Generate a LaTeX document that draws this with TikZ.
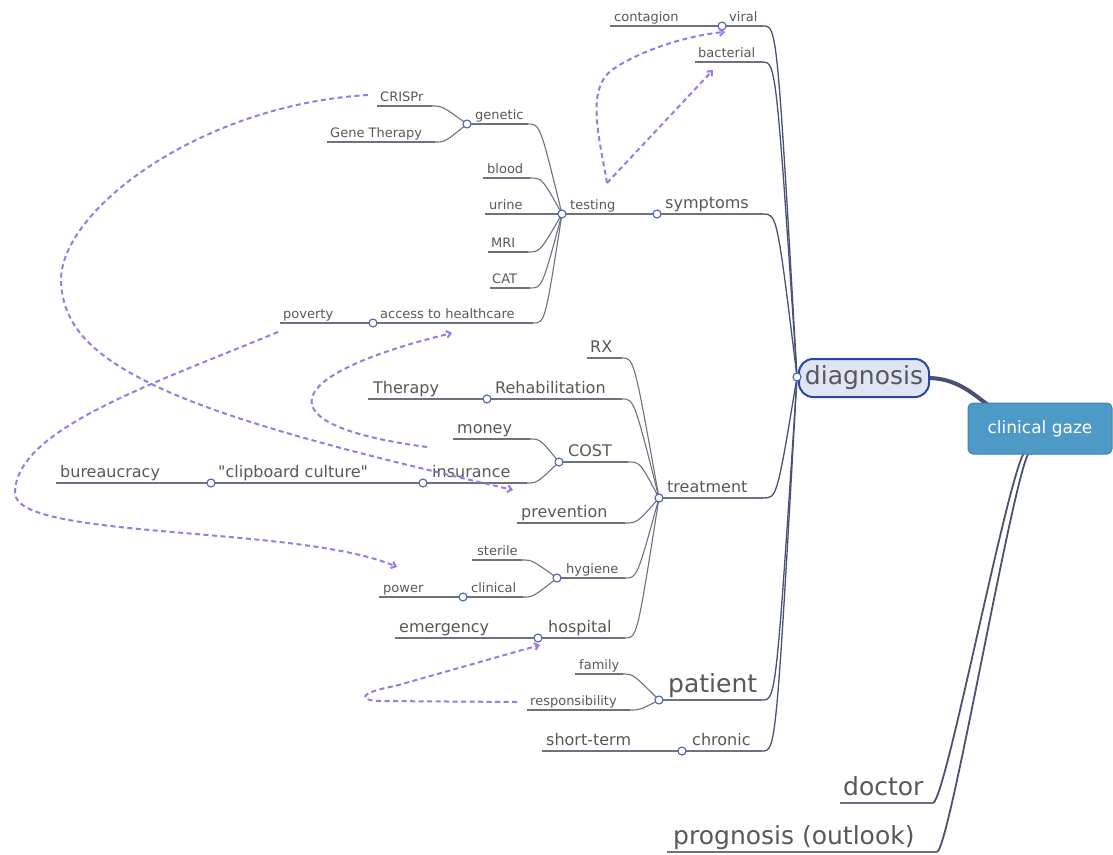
\documentclass[tikz,border=0pt]{standalone}
\usepackage{fontspec}
\setmainfont{DejaVu Sans}
\newfontfamily\plainq{DejaVu Sans}
\usetikzlibrary{arrows.meta,calc}
\definecolor{txt}{HTML}{585858}
\definecolor{ln}{HTML}{6E717E}
\definecolor{dk}{HTML}{4A5173}
\definecolor{cb}{HTML}{4A63B5}
\definecolor{dsh}{HTML}{9A78E6}
\definecolor{dfill}{HTML}{DFE5F5}
\definecolor{dborder}{HTML}{2845A8}
\definecolor{rootc}{HTML}{4D9AC6}
\definecolor{rootb}{HTML}{3F82AE}
\pgfdeclarelayer{bg}
\pgfsetlayers{bg,main}
\tikzset{
  uline/.style={draw=ln,line width=1.1pt},
  conn/.style={draw=ln,line width=1.1pt},
  dconn/.style={draw=dk,line width=1.3pt},
  lbl/.style={inner sep=0pt,text=txt,anchor=base west},
  dot/.style={circle,draw=cb,fill=white,line width=1.1pt,minimum size=8pt,inner sep=0pt},
  rel/.style={draw=dsh,line width=2pt,dash pattern=on 5pt off 3.5pt,-{Straight Barb[length=4pt,width=7pt]}},
  rootln/.style={draw=dk,line width=1.8pt},
  dnode/.style={draw=dborder,fill=dfill,line width=2pt,rounded corners=14pt,minimum width=130pt,minimum height=38pt,inner sep=0pt,text=txt,font=\fontsize{25}{25}\selectfont},
  rnode/.style={draw=rootb,fill=rootc,line width=1pt,rounded corners=5pt,minimum width=144pt,minimum height=51pt,inner sep=0pt,text=white,font=\fontsize{17}{17}\selectfont}
}
% #1 name, #2 xs, #3 xe, #4 y, #5 size, #6 label x, #7 baseline offset, #8 text
\newcommand{\mmT}[8]{%
  \coordinate (#1-s) at (#2,#4);
  \coordinate (#1-e) at (#3,#4);
  \draw[uline] (#1-s) -- (#1-e);
  \node[lbl,font=\fontsize{#5}{#5}\selectfont] (#1) at (#6,#4-#7) {#8};}
% #1 child, #2 parent coordinate, #3 style, #4 bend
\newcommand{\mmL}[4]{\draw[#3] (#1-e) .. controls ($(#1-e)+(#4,0)$) and ($(#1-e)+(#4,0)$) .. (#2);}
\begin{document}
\begin{tikzpicture}[x=1pt,y=-1pt]
\useasboundingbox (0,0) rectangle (1113,854);
\coordinate (diag-s) at (797,377);
% diagnosis branch
\mmT{viral}{722}{763}{26}{13}{729}{5}{viral}
\mmT{contagion}{610}{722}{26}{13}{614}{5}{contagion}
\mmT{bacterial}{695}{762}{62}{13}{698}{5}{bacterial}
\mmT{symptoms}{657}{763}{214}{16}{665}{6}{symptoms}
\mmT{testing}{562}{657}{214}{13}{570}{5}{testing}
\mmT{genetic}{467}{528}{124}{13}{475}{5}{genetic}
\mmT{crispr}{377}{432}{106}{13}{380}{5}{CRISPr}
\mmT{genether}{327}{435}{142}{13}{330}{5}{Gene Therapy}
\mmT{blood}{483}{530}{178}{13}{487}{5}{blood}
\mmT{urine}{485}{562}{214}{13}{489}{5}{urine}
\mmT{mri}{488}{528}{252}{13}{491}{5}{MRI}
\mmT{cat}{490}{530}{288}{13}{492}{5}{CAT}
\mmT{access}{373}{533}{323}{13}{380}{5}{access to healthcare}
\mmT{poverty}{280}{373}{323}{13}{283}{5}{poverty}
\mmT{treatment}{659}{763}{498}{16}{667}{6}{treatment}
\mmT{rx}{587}{622}{358}{16}{590}{6}{RX}
\mmT{rehab}{487}{622}{399}{16}{495}{6}{Rehabilitation}
\mmT{therapy}{368}{487}{399}{16}{373}{6}{Therapy}
\mmT{cost}{559}{628}{462}{16}{568}{6}{COST}
\mmT{money}{453}{530}{439}{16}{457}{6}{money}
\mmT{insurance}{423}{527}{483}{16}{432}{6}{insurance}
\mmT{clipboard}{211}{423}{483}{16}{218}{6}{{\plainq"clipboard culture"}}
\mmT{bureaucracy}{56}{211}{483}{16}{60}{6}{bureaucracy}
\mmT{prevention}{517}{625}{523}{16}{521}{6}{prevention}
\mmT{hygiene}{557}{625}{578}{13}{566}{5}{hygiene}
\mmT{sterile}{472}{522}{560}{13}{477}{5}{sterile}
\mmT{clinical}{463}{523}{597}{13}{471}{5}{clinical}
\mmT{power}{379}{463}{597}{13}{383}{5}{power}
\mmT{hospital}{538}{625}{638}{16}{548}{6}{hospital}
\mmT{emergency}{395}{538}{638}{16}{399}{6}{emergency}
\mmT{patient}{659}{762}{700}{25}{668}{8}{patient}
\mmT{family}{575}{623}{674}{13}{579}{5}{family}
\mmT{respons}{527}{630}{710}{13}{530}{5}{responsibility}
\mmT{chronic}{682}{762}{751}{16}{692}{6}{chronic}
\mmT{shortterm}{542}{682}{751}{16}{546}{6}{short-term}
\mmT{doctor}{840}{933}{803}{25}{843}{8}{doctor}
\mmT{prognosis}{667}{937}{852}{25}{673}{8}{prognosis (outlook)}
% links to diagnosis
\mmL{viral}{diag-s}{dconn}{14}
\mmL{bacterial}{diag-s}{dconn}{14}
\mmL{symptoms}{diag-s}{dconn}{14}
\mmL{treatment}{diag-s}{dconn}{14}
\mmL{patient}{diag-s}{dconn}{14}
\mmL{chronic}{diag-s}{dconn}{14}
% links to testing
\mmL{genetic}{testing-s}{conn}{12}
\mmL{blood}{testing-s}{conn}{12}
\mmL{mri}{testing-s}{conn}{12}
\mmL{cat}{testing-s}{conn}{12}
\mmL{access}{testing-s}{conn}{12}
\mmL{crispr}{genetic-s}{conn}{10}
\mmL{genether}{genetic-s}{conn}{10}
% links to treatment
\mmL{rx}{treatment-s}{conn}{12}
\mmL{rehab}{treatment-s}{conn}{12}
\mmL{cost}{treatment-s}{conn}{12}
\mmL{prevention}{treatment-s}{conn}{12}
\mmL{hygiene}{treatment-s}{conn}{12}
\mmL{hospital}{treatment-s}{conn}{12}
\mmL{money}{cost-s}{conn}{10}
\mmL{insurance}{cost-s}{conn}{10}
\mmL{sterile}{hygiene-s}{conn}{10}
\mmL{clinical}{hygiene-s}{conn}{10}
\mmL{family}{patient-s}{conn}{10}
\mmL{respons}{patient-s}{conn}{10}
% central nodes
\node[dnode] (diagnosis) at (864,378) {diagnosis};
\node[rnode] (gaze) at (1040,428.5) {clinical gaze};
\begin{pgfonlayer}{bg}
\draw[draw=dk,line width=4pt] (diagnosis.east) .. controls +(28,1) and +(-14,-10) .. ($(gaze.north west)+(20,2)$);
\draw[rootln] (doctor-e) .. controls +(14,-3) and +(-8,-45) .. ($(gaze.south)+(-12,0)$);
\draw[rootln] (prognosis-e) .. controls +(14,-4) and +(-8,-45) .. ($(gaze.south)+(-8,0)$);
\end{pgfonlayer}
% junction circles
\node[dot] (diag-dot) at (diag-s) {};
\foreach \c in {viral,symptoms,testing,genetic,access,treatment,rehab,cost,insurance,clipboard,hygiene,clinical,hospital,patient,chronic}
  \node[dot] (\c-dot) at (\c-s) {};
% relationship arrows
\coordinate (r1a) at (368,95);
\coordinate (r1b) at (513,490);
\draw[rel] (r1a) .. controls (200,105) and (61,210) .. (61,280) .. controls (62,330) and (100,360) .. (160,388) .. controls (250,430) and (420,468) .. (r1b);
\coordinate (r2a) at (278,332);
\coordinate (r2b) at (397,567);
\draw[rel] (r2a) .. controls (150,385) and (15,430) .. (15,493) .. controls (15,540) and (300,525) .. (r2b);
\coordinate (r3a) at (427,447);
\coordinate (r3b) at (452,333);
\draw[rel] (r3a) .. controls (260,425) and (280,375) .. (r3b);
\coordinate (r4a) at (517,702);
\coordinate (r4b) at (540,645);
\draw[rel] (r4a) -- (380,701) .. controls (355,700) and (362,692) .. (395,686) -- (r4b);
\coordinate (r5a) at (607,183);
\coordinate (r5b) at (725,32);
\draw[rel] (r5a) .. controls (600,140) and (585,90) .. (612,70) .. controls (640,50) and (690,35) .. (r5b);
\coordinate (r6b) at (713,70);
\draw[rel] (r5a) -- (r6b);
\end{tikzpicture}
\end{document}
